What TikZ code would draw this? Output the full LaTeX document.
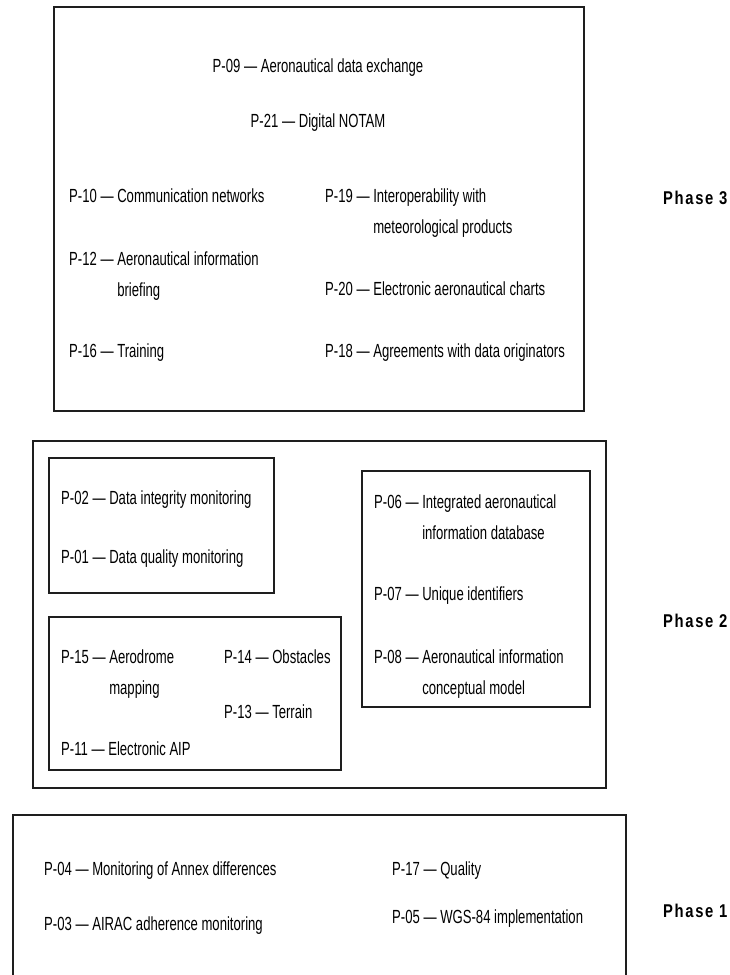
\documentclass[tikz,border=0pt]{standalone}
\usepackage{fontspec}
\usepackage{xcolor}
\usepackage{tikz}
\setmainfont{Liberation Sans}[FakeStretch=0.69]
\newfontfamily\phasefont{Liberation Sans}[FakeStretch=0.8,LetterSpace=9]
\definecolor{boxgray}{RGB}{30, 30, 30}
\renewcommand{\arraystretch}{1.36}
% one entry: number, then text (a second line goes after \\ &)
\newcommand{\pitem}[2]{\begin{tabular}[t]{@{}l@{~}l@{}}#1~—&#2\end{tabular}}

\begin{document}
\begin{tikzpicture}[x=1pt,y=-1pt,
  every node/.style={inner sep=0pt, font=\fontsize{19}{22.8}\selectfont},
  item/.style={anchor=base west},
  phase/.style={anchor=base west, font=\fontsize{18.5}{21}\selectfont\phasefont\bfseries}]
\useasboundingbox (0,0) rectangle (730,975);

% Phase 3
\draw[line width=2.2pt, boxgray] (54,7) rectangle (584,411);
\node[anchor=base] (p09) at (318,72) {P-09 — Aeronautical data exchange};
\node[anchor=base] (p21) at (318,127) {P-21 — Digital NOTAM};
\node[item] (p10) at (69,202) {\pitem{P-10}{Communication networks}};
\node[item] (p12) at (69,265) {\pitem{P-12}{Aeronautical information\\ &briefing}};
\node[item] (p16) at (69,357) {\pitem{P-16}{Training}};
\node[item] (p19) at (325,202) {\pitem{P-19}{Interoperability with\\ &meteorological products}};
\node[item] (p20) at (325,295) {\pitem{P-20}{Electronic aeronautical charts}};
\node[item] (p18) at (325,357) {\pitem{P-18}{Agreements with data originators}};
\node[phase] (ph3) at (663,204) {Phase 3};

% Phase 2
\draw[line width=1.4pt, boxgray] (33,441) rectangle (606,788);
\draw[line width=1.2pt, boxgray] (49,458) rectangle (274,593);
\draw[line width=1.2pt, boxgray] (49,617) rectangle (341,770);
\draw[line width=1.2pt, boxgray] (362,471) rectangle (590,707);
\node[item] (p02) at (61,504) {\pitem{P-02}{Data integrity monitoring}};
\node[item] (p01) at (61,563) {\pitem{P-01}{Data quality monitoring}};
\node[item] (p15) at (61,663) {\pitem{P-15}{Aerodrome\\ &mapping}};
\node[item] (p14) at (224,663) {\pitem{P-14}{Obstacles}};
\node[item] (p13) at (224,718) {\pitem{P-13}{Terrain}};
\node[item] (p11) at (61,755) {\pitem{P-11}{Electronic AIP}};
\node[item] (p06) at (374,508) {\pitem{P-06}{Integrated aeronautical\\ &information database}};
\node[item] (p07) at (374,600) {\pitem{P-07}{Unique identifiers}};
\node[item] (p08) at (374,663) {\pitem{P-08}{Aeronautical information\\ &conceptual model}};
\node[phase] (ph2) at (663,627) {Phase 2};

% Phase 1
\draw[line width=1.4pt, boxgray] (13,815) rectangle (626,990);
\node[item] (p04) at (44,875) {\pitem{P-04}{Monitoring of Annex differences}};
\node[item] (p03) at (44,930) {\pitem{P-03}{AIRAC adherence monitoring}};
\node[item] (p17) at (392,875) {\pitem{P-17}{Quality}};
\node[item] (p05) at (392,923) {\pitem{P-05}{WGS-84 implementation}};
\node[phase] (ph1) at (663,917) {Phase 1};
\end{tikzpicture}
\end{document}
